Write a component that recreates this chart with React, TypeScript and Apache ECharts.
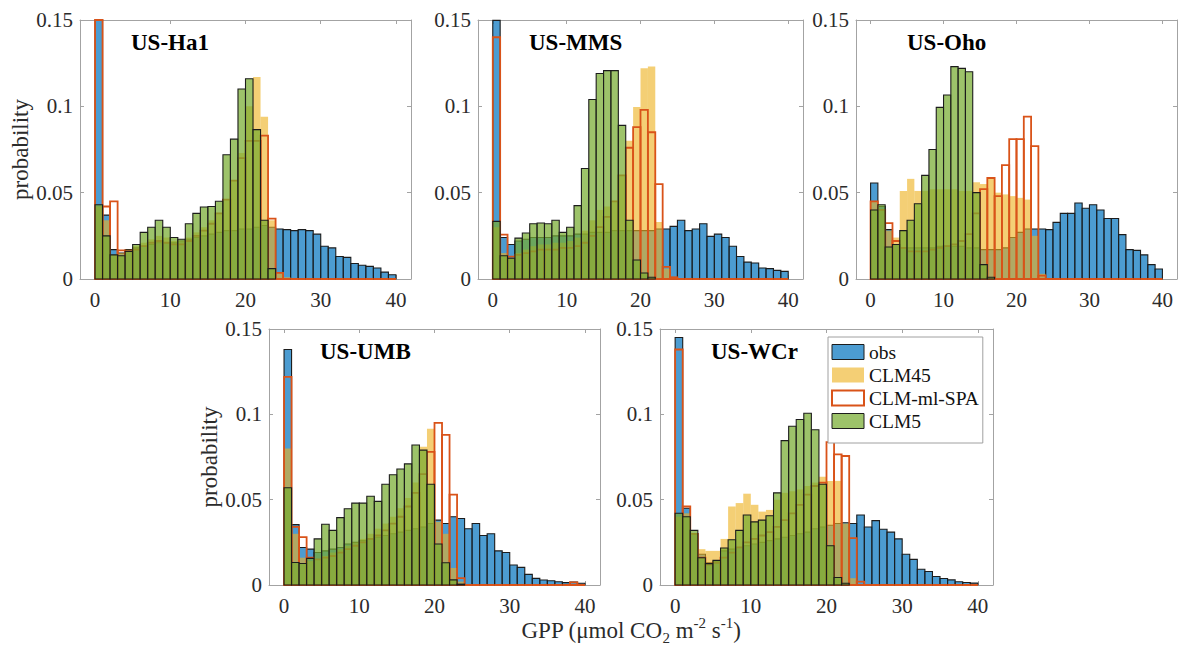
import React, { useEffect, useRef } from "react";
import * as echarts from "echarts";

// ---------------- DATA ----------------
const BINS = [0, 1, 2, 3, 4, 5, 6, 7, 8, 9, 10, 11, 12, 13, 14, 15, 16, 17, 18, 19, 20, 21, 22, 23, 24, 25, 26, 27, 28, 29, 30, 31, 32, 33, 34, 35, 36, 37, 38, 39];
const BIN_WIDTH = 1;
const X_TICKS = [0, 10, 20, 30, 40];
const SITES = ["US-Ha1", "US-MMS", "US-Oho", "US-UMB", "US-WCr"];
const SERIES_NAMES = ["obs", "CLM45", "CLM-ml-SPA", "CLM5"];

const HA1_OBS = [
  0.200, 0.037, 0.017, 0.015, 0.017, 0.018, 0.019, 0.020, 0.021, 0.021,
  0.021, 0.022, 0.023, 0.024, 0.025, 0.026, 0.027, 0.028, 0.028, 0.029,
  0.029, 0.030, 0.031, 0.030, 0.029, 0.0286, 0.028, 0.0286, 0.028, 0.026,
  0.019, 0.018, 0.013, 0.0125, 0.009, 0.008, 0.0073, 0.0064, 0.004, 0.0025];
const HA1_CLM45 = [
  0.042, 0.034, 0.014, 0.015, 0.017, 0.019, 0.021, 0.023, 0.025, 0.024,
  0.022, 0.022, 0.024, 0.027, 0.030, 0.034, 0.038, 0.046, 0.057, 0.073,
  0.100, 0.117, 0.094, 0.034, 0.004, 0.001, 0, 0, 0, 0,
  0, 0, 0, 0, 0, 0, 0, 0, 0, 0];
const HA1_SPA = [
  0.200, 0.042, 0.045, 0.0166, 0.016, 0.017, 0.019, 0.021, 0.022, 0.021,
  0.020, 0.020, 0.022, 0.025, 0.028, 0.032, 0.038, 0.046, 0.057, 0.070,
  0.080, 0.080, 0.083, 0.035, 0.0035, 0, 0, 0, 0, 0,
  0, 0, 0, 0, 0, 0, 0, 0, 0, 0];
const HA1_CLM5 = [
  0.043, 0.025, 0.014, 0.0135, 0.016, 0.020, 0.027, 0.030, 0.034, 0.030,
  0.024, 0.023, 0.032, 0.038, 0.0417, 0.042, 0.045, 0.072, 0.081, 0.110,
  0.116, 0.0865, 0.034, 0.006, 0, 0, 0, 0, 0, 0,
  0, 0, 0, 0, 0, 0, 0, 0, 0, 0];

const MMS_OBS = [
  0.1498, 0.024, 0.020, 0.022, 0.023, 0.024, 0.024, 0.024, 0.025, 0.025,
  0.025, 0.026, 0.026, 0.027, 0.027, 0.027, 0.028, 0.028, 0.028, 0.028,
  0.028, 0.028, 0.029, 0.029, 0.0305, 0.034, 0.028, 0.029, 0.032, 0.0247,
  0.026, 0.024, 0.019, 0.013, 0.0098, 0.0093, 0.0064, 0.006, 0.005, 0.0044];
const MMS_CLM45 = [
  0.030, 0.015, 0.012, 0.015, 0.017, 0.019, 0.020, 0.020, 0.021, 0.021,
  0.022, 0.024, 0.028, 0.034, 0.040, 0.042, 0.045, 0.060, 0.080, 0.0996,
  0.122, 0.123, 0.033, 0.006, 0.001, 0, 0, 0, 0, 0,
  0, 0, 0, 0, 0, 0, 0, 0, 0, 0];
const MMS_SPA = [
  0.140, 0.0257, 0.013, 0.014, 0.015, 0.016, 0.017, 0.017, 0.017, 0.018,
  0.018, 0.019, 0.021, 0.025, 0.030, 0.036, 0.045, 0.060, 0.076, 0.088,
  0.098, 0.085, 0.055, 0.007, 0.001, 0, 0, 0, 0, 0,
  0, 0, 0, 0, 0, 0, 0, 0, 0, 0];
const MMS_CLM5 = [
  0.0334, 0.0135, 0.012, 0.0237, 0.0266, 0.032, 0.0324, 0.032, 0.034, 0.027,
  0.030, 0.0425, 0.064, 0.104, 0.119, 0.1207, 0.1207, 0.089, 0.034, 0.011,
  0.0035, 0.001, 0, 0, 0, 0, 0, 0, 0, 0,
  0, 0, 0, 0, 0, 0, 0, 0, 0, 0];

const OHO_OBS = [
  0.0556, 0.042, 0.0286, 0.020, 0.018, 0.018, 0.018, 0.018, 0.018, 0.019,
  0.019, 0.019, 0.019, 0.018, 0.018, 0.017, 0.017, 0.017, 0.018, 0.024,
  0.027, 0.029, 0.029, 0.029, 0.0286, 0.0328, 0.038, 0.038, 0.044, 0.041,
  0.043, 0.040, 0.035, 0.035, 0.0257, 0.017, 0.0166, 0.014, 0.0083, 0.0058];
const OHO_CLM45 = [
  0.045, 0.040, 0.028, 0.024, 0.051, 0.058, 0.051, 0.051, 0.052, 0.052,
  0.052, 0.052, 0.051, 0.051, 0.056, 0.055, 0.058, 0.050, 0.049, 0.048,
  0.047, 0.046, 0.025, 0.003, 0, 0, 0, 0, 0, 0,
  0, 0, 0, 0, 0, 0, 0, 0, 0, 0];
const OHO_SPA = [
  0.045, 0.040, 0.0324, 0.022, 0.018, 0.016, 0.016, 0.016, 0.017, 0.018,
  0.019, 0.020, 0.022, 0.026, 0.038, 0.052, 0.0585, 0.048, 0.066, 0.081,
  0.081, 0.094, 0.077, 0.002, 0, 0, 0, 0, 0, 0,
  0, 0, 0, 0, 0, 0, 0, 0, 0, 0];
const OHO_CLM5 = [
  0.040, 0.043, 0.0185, 0.020, 0.028, 0.034, 0.0436, 0.060, 0.075, 0.0994,
  0.1066, 0.123, 0.122, 0.120, 0.050, 0.0083, 0.001, 0, 0, 0,
  0, 0, 0, 0, 0, 0, 0, 0, 0, 0,
  0, 0, 0, 0, 0, 0, 0, 0, 0, 0];

const UMB_OBS = [
  0.138, 0.0354, 0.022, 0.021, 0.019, 0.020, 0.021, 0.022, 0.024, 0.025,
  0.026, 0.027, 0.028, 0.029, 0.030, 0.031, 0.032, 0.033, 0.034, 0.036,
  0.038, 0.036, 0.040, 0.039, 0.033, 0.036, 0.029, 0.030, 0.020, 0.019,
  0.0117, 0.0103, 0.0062, 0.0039, 0.0029, 0.0025, 0.0019, 0.0014, 0.0018, 0.001];
const UMB_CLM45 = [
  0.080, 0.030, 0.016, 0.014, 0.015, 0.017, 0.019, 0.021, 0.023, 0.025,
  0.027, 0.030, 0.033, 0.036, 0.040, 0.045, 0.051, 0.060, 0.081, 0.0915,
  0.037, 0.030, 0.010, 0.002, 0, 0, 0, 0, 0, 0,
  0, 0, 0, 0, 0, 0, 0, 0, 0, 0];
const UMB_SPA = [
  0.122, 0.034, 0.028, 0.016, 0.015, 0.016, 0.017, 0.019, 0.021, 0.023,
  0.025, 0.027, 0.029, 0.032, 0.036, 0.040, 0.046, 0.054, 0.065, 0.078,
  0.095, 0.088, 0.053, 0.004, 0, 0, 0, 0, 0, 0,
  0, 0, 0, 0, 0, 0, 0, 0, 0.0015, 0];
const UMB_CLM5 = [
  0.057, 0.0132, 0.0126, 0.0156, 0.027, 0.0356, 0.032, 0.0395, 0.0447, 0.048,
  0.048, 0.052, 0.049, 0.059, 0.0646, 0.068, 0.071, 0.082, 0.079, 0.059,
  0.024, 0.013, 0.003, 0.0005, 0, 0, 0, 0, 0, 0,
  0, 0, 0, 0, 0, 0, 0, 0, 0, 0];

const WCR_OBS = [
  0.145, 0.045, 0.030, 0.018, 0.013, 0.014, 0.020, 0.021, 0.022, 0.023,
  0.024, 0.025, 0.026, 0.027, 0.028, 0.029, 0.030, 0.031, 0.033, 0.034,
  0.035, 0.036, 0.0365, 0.036, 0.041, 0.034, 0.0377, 0.0327, 0.031, 0.027,
  0.018, 0.015, 0.0092, 0.0079, 0.005, 0.0038, 0.003, 0.0019, 0.0015, 0.0011];
const WCR_CLM45 = [
  0.040, 0.042, 0.030, 0.021, 0.020, 0.020, 0.027, 0.046, 0.048, 0.0535,
  0.047, 0.043, 0.044, 0.050, 0.054, 0.055, 0.056, 0.058, 0.060, 0.0635,
  0.061, 0.061, 0.036, 0.004, 0, 0, 0, 0, 0, 0,
  0, 0, 0, 0, 0, 0, 0, 0, 0, 0];
const WCR_SPA = [
  0.138, 0.046, 0.030, 0.016, 0.012, 0.013, 0.016, 0.019, 0.022, 0.025,
  0.027, 0.029, 0.031, 0.034, 0.038, 0.042, 0.047, 0.053, 0.058, 0.060,
  0.0837, 0.0765, 0.0756, 0.0275, 0.002, 0, 0, 0, 0, 0,
  0, 0, 0, 0, 0, 0, 0, 0, 0, 0];
const WCR_CLM5 = [
  0.042, 0.040, 0.032, 0.016, 0.0125, 0.0144, 0.0217, 0.0265, 0.032, 0.041,
  0.037, 0.038, 0.0406, 0.054, 0.0846, 0.093, 0.097, 0.1006, 0.091, 0.059,
  0.023, 0.0044, 0.001, 0, 0, 0, 0, 0, 0, 0,
  0, 0, 0, 0, 0, 0, 0, 0, 0, 0];

const SITE_DATA = [
  [HA1_OBS, HA1_CLM45, HA1_SPA, HA1_CLM5],
  [MMS_OBS, MMS_CLM45, MMS_SPA, MMS_CLM5],
  [OHO_OBS, OHO_CLM45, OHO_SPA, OHO_CLM5],
  [UMB_OBS, UMB_CLM45, UMB_SPA, UMB_CLM5],
  [WCR_OBS, WCR_CLM45, WCR_SPA, WCR_CLM5],
];

// ---------------- LAYOUT / STYLE ----------------
const PANELS = [
  { left: 80, top: 20, width: 331, height: 259, ylabel: true },
  { left: 478, top: 20, width: 325, height: 259, ylabel: false },
  { left: 856, top: 20, width: 321, height: 259, ylabel: false },
  { left: 269, top: 329, width: 331, height: 256, ylabel: true },
  { left: 660, top: 329, width: 333, height: 256, ylabel: false },
];

const FONT = "'Liberation Serif', 'Times New Roman', serif";
const AXIS_COLOR = "#a3a3a3";
const LABEL_COLOR = "#2b2b2b";
const EDGE = "#1c1c1c";

const STYLES = [
  { fill: "rgba(0,114,189,0.70)", stroke: EDGE, lineWidth: 1.1 },
  { fill: "rgba(237,177,32,0.62)", stroke: "none", lineWidth: 0 },
  { fill: "none", stroke: "#D95319", lineWidth: 1.8 },
  { fill: "rgba(119,172,48,0.72)", stroke: EDGE, lineWidth: 1.1 },
];

const LEGEND_STYLES = [
  { color: "rgba(0,114,189,0.70)", borderColor: EDGE, borderWidth: 1 },
  { color: "rgba(237,177,32,0.62)", borderColor: "rgba(0,0,0,0)", borderWidth: 0 },
  { color: "#ffffff", borderColor: "#D95319", borderWidth: 2 },
  { color: "rgba(119,172,48,0.72)", borderColor: EDGE, borderWidth: 1 },
];

function makeRender(kind: number) {
  return (params: any, api: any) => {
    const x0 = api.value(0);
    const v = api.value(1);
    if (!(v > 0) && kind !== 2) return null;
    const p0 = api.coord([x0, 0]);
    const p1 = api.coord([x0 + BIN_WIDTH, v]);
    const cs = params.coordSys;
    const rect = echarts.graphic.clipRectByRect(
      { x: p0[0], y: p1[1], width: p1[0] - p0[0], height: p0[1] - p1[1] },
      { x: cs.x, y: cs.y, width: cs.width, height: cs.height }
    );
    if (!rect) return null;
    return { type: "rect", shape: rect, style: { ...STYLES[kind] } };
  };
}

function buildOption() {
  const grid = PANELS.map((p) => ({ left: p.left, top: p.top, width: p.width, height: p.height, show: false }));
  const lineStyle = { color: AXIS_COLOR, width: 1 };
  const xAxis: any[] = [];
  const yAxis: any[] = [];
  PANELS.forEach((p, i) => {
    xAxis.push({
      type: "value", gridIndex: i, min: -2, max: 42, position: "bottom",
      axisLine: { show: true, onZero: false, lineStyle },
      axisTick: { show: true, inside: true, length: 4, customValues: X_TICKS, lineStyle },
      axisLabel: { customValues: X_TICKS, margin: 10, fontFamily: FONT, fontSize: 21, color: LABEL_COLOR },
      splitLine: { show: false },
    });
  });
  PANELS.forEach((p, i) => {
    xAxis.push({
      type: "value", gridIndex: i, min: -2, max: 42, position: "top",
      axisLine: { show: true, onZero: false, lineStyle },
      axisTick: { show: true, inside: true, length: 4, customValues: X_TICKS, lineStyle },
      axisLabel: { show: false },
      splitLine: { show: false },
    });
  });
  PANELS.forEach((p, i) => {
    yAxis.push({
      type: "value", gridIndex: i, min: 0, max: 0.15, interval: 0.05, position: "left",
      axisLine: { show: true, onZero: false, lineStyle },
      axisTick: { show: true, inside: true, length: 4, lineStyle },
      axisLabel: { margin: 7, fontFamily: FONT, fontSize: 21, color: LABEL_COLOR },
      splitLine: { show: false },
      name: p.ylabel ? "probability" : "",
      nameLocation: "middle",
      nameGap: 41,
      nameTextStyle: { fontFamily: FONT, fontSize: 23, color: LABEL_COLOR },
    });
  });
  PANELS.forEach((p, i) => {
    yAxis.push({
      type: "value", gridIndex: i, min: 0, max: 0.15, interval: 0.05, position: "right",
      axisLine: { show: true, onZero: false, lineStyle },
      axisTick: { show: true, inside: true, length: 4, lineStyle },
      axisLabel: { show: false },
      splitLine: { show: false },
    });
  });

  const series: any[] = [];
  SITE_DATA.forEach((arrs, i) => {
    arrs.forEach((arr, k) => {
      series.push({
        type: "custom",
        name: SERIES_NAMES[k],
        xAxisIndex: i,
        yAxisIndex: i,
        renderItem: makeRender(k),
        encode: { x: 0, y: 1 },
        itemStyle: { color: LEGEND_STYLES[k].color, borderColor: LEGEND_STYLES[k].borderColor },
        data: BINS.map((b, j) => [b, arr[j]]),
        z: 2,
        silent: true,
      });
    });
  });

  const title = SITES.map((s, i) => ({
    text: s,
    left: PANELS[i].left + 51,
    top: PANELS[i].top + 11,
    padding: 0,
    textStyle: { fontFamily: FONT, fontWeight: "bold", fontSize: 23, color: "#000" },
  }));

  return {
    animation: false,
    backgroundColor: "#ffffff",
    grid,
    xAxis,
    yAxis,
    series,
    title,
    legend: {
      left: 828,
      top: 337,
      orient: "vertical",
      selectedMode: false,
      backgroundColor: "#ffffff",
      borderColor: "#a0a0a0",
      borderWidth: 1,
      padding: [5, 4, 12, 3],
      itemGap: 3,
      itemWidth: 32,
      itemHeight: 15,
      textStyle: { fontFamily: FONT, fontSize: 19.5, color: "#111" },
      data: SERIES_NAMES.map((n, k) => ({ name: n, icon: "rect", itemStyle: LEGEND_STYLES[k] })),
    },
    graphic: [
      {
        type: "text",
        x: 631,
        y: 630,
        style: {
          text: "{n|GPP (μmol CO}{sub|2}{n| m}{sup|-2}{n| s}{sup|-1}{n|)}",
          align: "center",
          verticalAlign: "middle",
          fill: LABEL_COLOR,
          fontFamily: FONT,
          fontSize: 23,
          rich: {
            n: { fontFamily: FONT, fontSize: 23, lineHeight: 30, verticalAlign: "middle", fill: LABEL_COLOR },
            sup: { fontFamily: FONT, fontSize: 15, lineHeight: 15, verticalAlign: "top", fill: LABEL_COLOR },
            sub: { fontFamily: FONT, fontSize: 15, lineHeight: 15, verticalAlign: "bottom", fill: LABEL_COLOR },
          },
        },
      },
    ],
  };
}

export default function App() {
  const ref = useRef<HTMLDivElement>(null);
  useEffect(() => {
    const chart = echarts.init(ref.current as HTMLDivElement, null, { renderer: "svg" });
    chart.setOption(buildOption() as any);
    return () => chart.dispose();
  }, []);
  return (
    <div
      ref={ref}
      style={{ position: "absolute", left: 0, top: 0, width: 1181, height: 666, background: "#fff" }}
    />
  );
}
